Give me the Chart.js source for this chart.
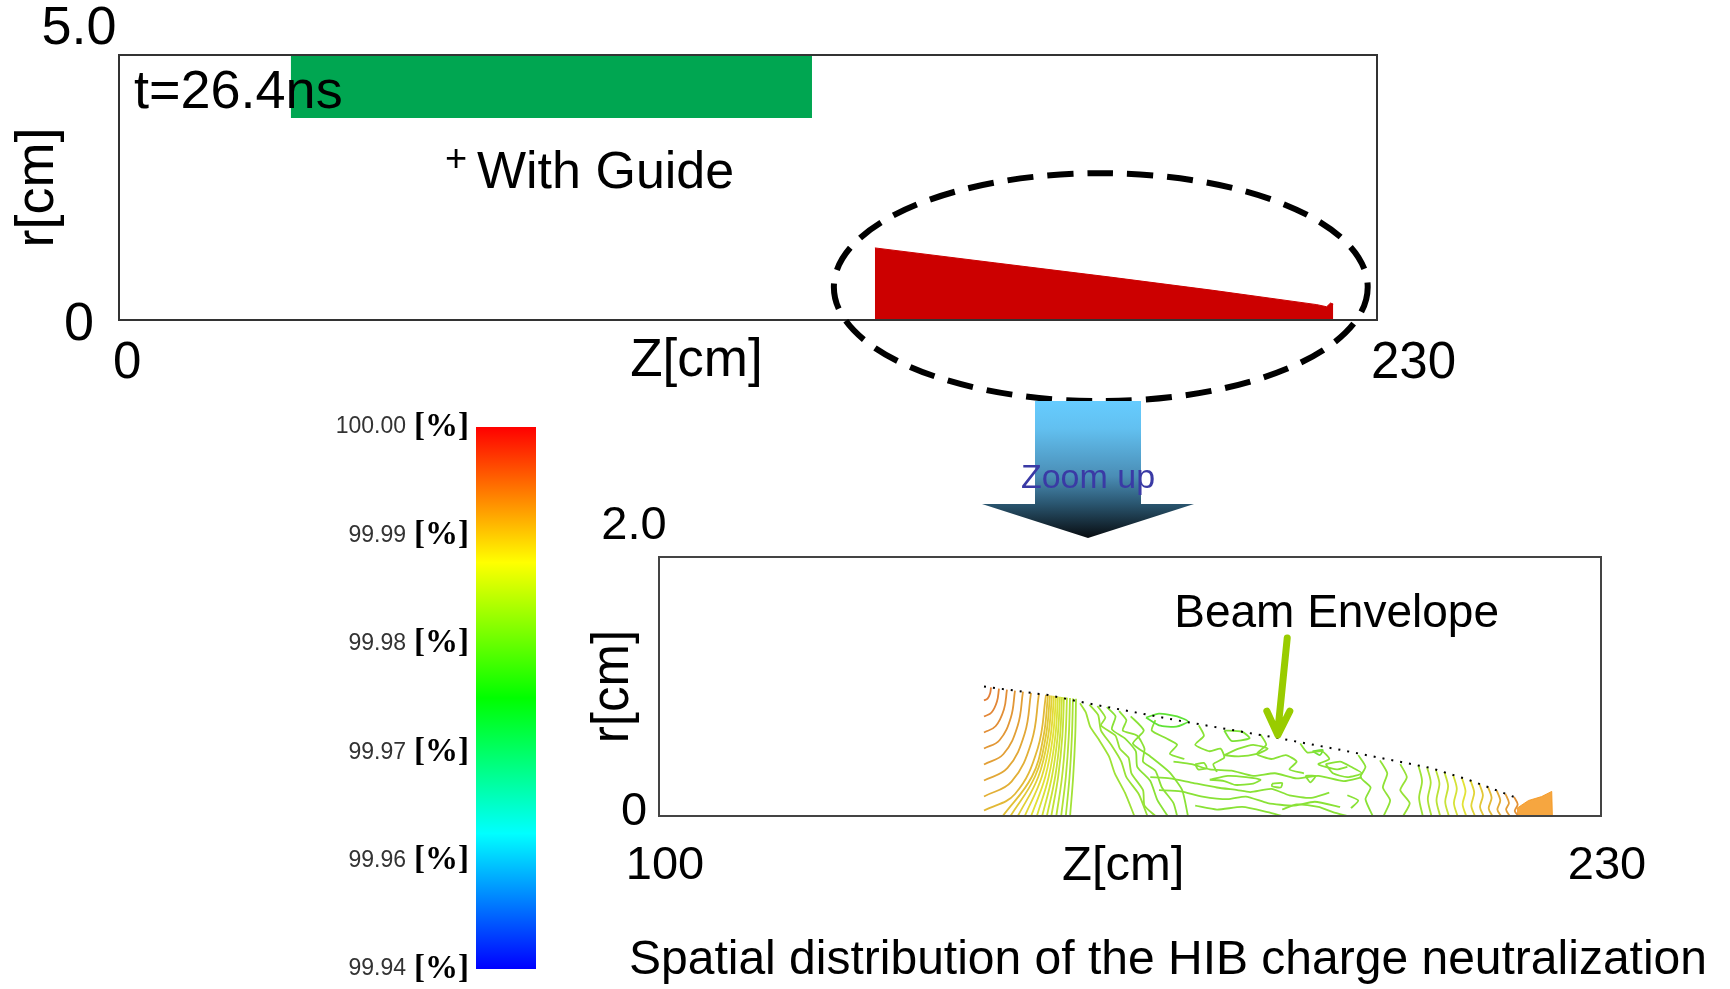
<!DOCTYPE html>
<html>
<head>
<meta charset="utf-8">
<title>Spatial distribution of the HIB charge neutralization</title>
<script src="https://cdn.jsdelivr.net/npm/chart.js@4.4.1/dist/chart.umd.min.js"></script>
<style>
  html, body { margin: 0; padding: 0; background: #fff; }
  body { width: 1730px; height: 989px; position: relative; overflow: hidden; }
  canvas { position: absolute; left: 0; }
  #topChart { top: 0; }
  #zoomChart { top: 400px; }
</style>
</head>
<body>
<canvas id="topChart" width="1730" height="560"></canvas>
<canvas id="zoomChart" width="1730" height="589"></canvas>
<script>
const FONT = '"Liberation Sans", Arial, sans-serif';

// ---------- top panel: whole column at t = 26.4 ns ----------
const topZTicks = [0, 230];
const topZLabels = ['0', '230'];
const topRTicks = [0, 5];
const topRLabels = ['0', '5.0'];
const guideZ = [31.4, 126.7];          // green guide block [cm]
const guideR = [3.81, 5.0];
const beamZ = [138.2, 160, 181.2, 200, 219, 220.8, 221.5, 222.0];
const beamR = [1.36, 1.08, 0.81, 0.56, 0.29, 0.25, 0.32, 0.30];

// ---------- bottom panel: zoom on the beam ----------
const zoomZTicks = [100, 230];
const zoomZLabels = ['100', '230'];
const zoomRTicks = [0, 2];
const zoomRLabels = ['0', '2.0'];
const envZ = [144.85, 153.7, 158.9, 171.3, 185.4, 194.1, 206.5, 211.8, 218.0];
const envR = [1.0, 0.934, 0.873, 0.741, 0.602, 0.51, 0.371, 0.278, 0.147];

// head of the beam: contour lines [z, r], levels in %
const fanLevels = [99.9948, 99.9942, 99.9936, 99.9930, 99.9924, 99.9918, 99.9912, 99.9906,
  99.9900, 99.9894, 99.9888, 99.9882, 99.9876, 99.9870, 99.9864, 99.9858, 99.9852,
  99.9846, 99.9840, 99.9834, 99.9828];
const fanLines = [
  [[144.85,.892],[145.34,.906],[145.69,.946],[145.82,.993]],
  [[144.85,.768],[145.89,.799],[146.64,.884],[146.92,.984]],
  [[144.85,.645],[146.44,.693],[147.6,.823],[148.02,.976]],
  [[144.85,.521],[146.99,.585],[148.56,.761],[149.13,.968]],
  [[144.85,.398],[147.54,.479],[149.51,.699],[150.23,.960]],
  [[144.85,.274],[148.1,.371],[150.47,.637],[151.34,.951]],
  [[144.85,.151],[148.65,.265],[151.42,.576],[152.44,.943]],
  [[144.85,.042],[149.13,.170],[152.26,.521],[153.41,.936]],
  [[147.44,0],[151.47,.305],[153.06,.614],[153.68,.934]],
  [[148.51,0],[151.89,.305],[153.38,.614],[153.96,.932]],
  [[149.53,0],[152.36,.305],[153.70,.614],[154.23,.930]],
  [[150.48,0],[152.84,.305],[154.03,.614],[154.51,.928]],
  [[151.36,0],[153.32,.305],[154.36,.614],[154.79,.925]],
  [[152.15,0],[153.79,.305],[154.69,.614],[155.06,.923]],
  [[152.88,0],[154.23,.305],[155.01,.614],[155.34,.921]],
  [[153.53,0],[154.68,.305],[155.34,.614],[155.61,.919]],
  [[154.14,0],[155.09,.305],[155.66,.614],[155.89,.917]],
  [[154.83,0],[155.63,.305],[156.10,.614],[156.30,.914]],
  [[155.50,0],[156.15,.305],[156.55,.614],[156.72,.911]],
  [[156.14,0],[156.66,.305],[156.98,.614],[157.13,.908]],
  [[156.73,0],[157.16,.305],[157.44,.614],[157.55,.905]]
];

// body of the beam
const midLevels = [99.9825, 99.982, 99.981, 99.981, 99.978, 99.981, 99.981, 99.981, 99.981,
  99.981, 99.981, 99.981, 99.981, 99.9815, 99.982, 99.981, 99.981, 99.981, 99.979,
  99.9818, 99.9812, 99.981, 99.980, 99.981, 99.981, 99.981, 99.981, 99.981];
const midLines = [
  [[158.1,.87],[158.9,.80],[159.5,.69],[160.7,.59],[162.1,.46],[162.9,.33],[164.3,.18],[165.6,0]],
  [[159.4,.86],[160.6,.78],[161.0,.66],[162.4,.55],[163.8,.42],[164.5,.30],[166.2,.17],[167.4,0]],
  [[161.8,.84],[163.0,.77],[162.5,.67],[164.3,.60],[165.8,.50],[166.0,.38],[167.8,.27],[168.8,.12],[170.2,0]],
  [[165.1,.77],[166.9,.66],[165.4,.56],[167.8,.46],[170.4,.34],[172.2,.20],[173.0,0]],
  [[167.2,.76],[169.0,.79],[171.5,.77],[173.0,.73],[171.4,.69],[169.0,.70],[167.2,.76]],
  [[174.5,.70],[175.2,.62],[174.0,.55],[176.0,.50],[177.5,.52],[178.0,.45],[176.5,.40],[177.0,.34]],
  [[167.8,.30],[170.5,.29],[173.3,.26],[177.0,.22],[179.8,.20],[181.6,.185],[184.5,.21],[187.0,.16],[190.0,.14],[192.5,.18]],
  [[169.0,.20],[172.0,.19],[175.0,.15],[178.5,.13],[181.0,.15],[184.0,.10],[187.5,.08],[190.5,.11],[194.0,.07]],
  [[171.0,.42],[173.5,.40],[176.0,.36],[179.0,.35],[182.0,.31],[185.0,.33],[188.0,.29],[191.0,.31],[194.5,.27],[197.0,.30]],
  [[174.0,.08],[177.0,.05],[180.5,.07],[184.0,.03],[186.0,0]],
  [[183.0,.63],[183.8,.55],[182.5,.48],[184.5,.44],[186.5,.47],[188.0,.42],[187.0,.36],[189.0,.33]],
  [[188.5,.56],[189.5,.49],[191.5,.50],[192.5,.44],[191.0,.40],[193.5,.36],[195.0,.38]],
  [[196.5,.47],[197.5,.38],[196.8,.30],[198.2,.22],[197.5,.13],[198.5,0]],
  [[199.5,.43],[200.5,.33],[199.9,.22],[200.9,.12],[200.0,0]],
  [[202.3,.40],[203.2,.30],[202.3,.20],[203.6,.10],[202.7,0]],
  [[174.0,.40],[175.2,.41],[175.6,.37],[174.4,.36],[174.0,.40]],
  [[189.2,.31],[190.6,.31],[189.9,.26],[189.2,.31]],
  [[184.6,.25],[186.0,.255],[185.8,.22],[184.6,.23],[184.6,.25]],
  [[190.2,.50],[191.6,.51],[191.2,.47],[190.2,.50]],
  [[160.5,.85],[161.6,.76],[161.0,.70],[163.0,.62],[163.6,.52],[164.8,.45],[165.2,.33],[166.8,.20],[167.0,.08],[168.5,0]],
  [[163.5,.81],[164.5,.74],[164.0,.66],[166.0,.62],[167.0,.52],[166.8,.42],[168.5,.35],[169.4,.22],[171.0,.10],[171.5,0]],
  [[168.5,.74],[168.0,.66],[170.0,.60],[171.5,.55],[170.5,.48],[172.5,.44]],
  [[178.0,.66],[180.5,.65],[181.5,.60],[179.0,.58],[178.0,.66]],
  [[176.0,.28],[178.0,.27],[179.5,.24],[182.0,.25],[183.0,.28],[181.0,.30],[178.5,.31],[176.0,.28]],
  [[192.0,.40],[194.0,.42],[195.5,.38],[197.0,.33],[195.0,.30],[193.0,.33],[192.0,.40]],
  [[178.0,.47],[180.0,.52],[182.0,.55],[184.0,.52],[182.5,.48],[180.0,.46],[178.0,.47]],
  [[186.0,.05],[188.0,.09],[191.0,.07],[193.0,.03],[195.0,0]],
  [[195.0,.16],[196.5,.12],[195.5,.06]]
];

// tail of the beam
const tailLevels = [99.9825, 99.9835, 99.9845, 99.9855, 99.9865, 99.9875, 99.9885, 99.9895,
  99.9905, 99.9915, 99.9925, 99.9935];
const tailLines = [
  [[204.8,.39],[205.3,.27],[204.9,.14],[205.4,0]],
  [[206.0,.375],[206.5,.26],[206.1,.13],[206.6,0]],
  [[207.2,.358],[207.7,.25],[207.3,.12],[207.8,0]],
  [[208.4,.338],[208.9,.23],[208.5,.11],[209.0,0]],
  [[209.6,.317],[210.1,.21],[209.7,.10],[210.2,0]],
  [[210.8,.296],[211.3,.19],[210.9,.09],[211.4,0]],
  [[212.0,.274],[212.5,.18],[212.1,.08],[212.6,0]],
  [[213.2,.249],[213.7,.16],[213.3,.07],[213.8,0]],
  [[214.4,.224],[214.9,.14],[214.5,.06],[215.0,0]],
  [[215.6,.198],[216.1,.12],[215.7,.05],[216.2,0]],
  [[216.8,.172],[217.3,.10],[216.9,.05],[217.4,0]],
  [[218.0,.147],[218.5,.09],[218.1,.04],[218.6,0]]
];
const hotZ = [218.4, 220.0, 221.8, 223.2, 223.3];
const hotR = [0.06, 0.12, 0.15, 0.19, 0.0];

// colour scale
const barLabels = ['100.00', '99.99', '99.98', '99.97', '99.96', '99.94'];

// ---------- helpers ----------
function levelColor(v) {
  const f = Math.min(1, Math.max(0, (100 - v) / 0.05));
  return `hsl(${240 * f}, 75%, 55%)`;
}
const pts = (xs, ys) => xs.map((x, i) => ({x, y: ys[i]}));
const linePts = line => line.map(([x, y]) => ({x, y}));
function contourSet(line, level, tension) {
  return { data: linePts(line), showLine: true, borderColor: levelColor(level), borderWidth: 1.8,
           pointRadius: 0, tension, fill: false };
}
function tickSetter(values) {
  return s => { s.ticks = values.map(v => ({value: v})); };
}
function tickLabel(values, labels, splitLast) {
  return (v, i, arr) => {
    const lab = labels[values.indexOf(v)];
    return splitLast && i === arr.length - 1 ? [lab, ''] : lab;
  };
}
const noPad = s => { s.paddingTop = 0; s.paddingBottom = 0; s.paddingLeft = 0; s.paddingRight = 0; };

// ---------- decorations ----------
const topDecor = {
  id: 'topDecor',
  afterDraw(chart) {
    const {ctx, chartArea: a, scales: {x, y}} = chart;
    ctx.save();
    ctx.strokeStyle = '#333';
    ctx.lineWidth = 2;
    ctx.strokeRect(a.left, a.top, a.right - a.left, a.bottom - a.top);

    ctx.fillStyle = '#000';
    ctx.textAlign = 'left';
    ctx.textBaseline = 'alphabetic';
    ctx.font = `54px ${FONT}`;
    ctx.fillText('t=26.4ns', x.getPixelForValue(2.74), y.getPixelForValue(4.0));
    ctx.font = `52px ${FONT}`;
    ctx.fillText('With Guide', x.getPixelForValue(65.45), y.getPixelForValue(2.49));
    ctx.font = `38px ${FONT}`;
    ctx.textBaseline = 'middle';
    ctx.fillText('+', x.getPixelForValue(59.6), y.getPixelForValue(3.0));

    // dashed ring around the beam
    const cx = x.getPixelForValue(179.5), cy = y.getPixelForValue(0.62);
    const rx = x.getPixelForValue(179.5 + 48.8) - cx;
    const ry = cy - y.getPixelForValue(0.62 + 2.15);
    ctx.setLineDash([26, 14]);
    ctx.lineWidth = 6;
    ctx.strokeStyle = '#000';
    ctx.beginPath();
    ctx.ellipse(cx, cy, rx, ry, 0, 0, Math.PI * 2);
    ctx.stroke();
    ctx.setLineDash([]);

    // "Zoom up" arrow
    const ax = 1088, top = 401, neck = 504, tip = 538;
    const g = ctx.createLinearGradient(0, top, 0, tip);
    g.addColorStop(0, '#66ccff');
    g.addColorStop(0.2, '#62c0f0');
    g.addColorStop(0.55, '#4a8db5');
    g.addColorStop(0.75, '#2a5670');
    g.addColorStop(1, '#080c10');
    ctx.fillStyle = g;
    ctx.beginPath();
    ctx.moveTo(ax - 53, top);
    ctx.lineTo(ax + 53, top);
    ctx.lineTo(ax + 53, neck);
    ctx.lineTo(ax + 106, neck);
    ctx.lineTo(ax, tip);
    ctx.lineTo(ax - 106, neck);
    ctx.lineTo(ax - 53, neck);
    ctx.closePath();
    ctx.fill();
    ctx.fillStyle = '#3a3aa5';
    ctx.font = `34px ${FONT}`;
    ctx.textAlign = 'center';
    ctx.textBaseline = 'alphabetic';
    ctx.fillText('Zoom up', ax, 488);
    ctx.restore();
  }
};

const zoomDecor = {
  id: 'zoomDecor',
  afterDraw(chart) {
    const {ctx, chartArea: a, scales: {x, y}} = chart;
    ctx.save();
    ctx.strokeStyle = '#444';
    ctx.lineWidth = 2;
    ctx.strokeRect(a.left, a.top, a.right - a.left, a.bottom - a.top);

    ctx.fillStyle = '#000';
    ctx.font = `46px ${FONT}`;
    ctx.textAlign = 'left';
    ctx.textBaseline = 'alphabetic';
    ctx.fillText('Beam Envelope', x.getPixelForValue(171.1), y.getPixelForValue(1.46));

    // green pointer to the envelope
    const x0 = x.getPixelForValue(186.7), y0 = y.getPixelForValue(1.375);
    const x1 = x.getPixelForValue(185.4), y1 = y.getPixelForValue(0.625);
    ctx.strokeStyle = '#99cc00';
    ctx.lineWidth = 7;
    ctx.lineCap = 'round';
    ctx.lineJoin = 'round';
    ctx.beginPath();
    ctx.moveTo(x0, y0);
    ctx.lineTo(x1, y1 - 4);
    ctx.moveTo(x1 - 11, y1 - 24);
    ctx.lineTo(x1, y1);
    ctx.lineTo(x1 + 12, y1 - 24);
    ctx.stroke();

    // colour scale
    const bl = 476, br = 536, bt = 27, bb = 569;
    const g = ctx.createLinearGradient(0, bt, 0, bb);
    for (let k = 0; k <= 8; k++) g.addColorStop(k / 8, `hsl(${30 * k}, 100%, 50%)`);
    ctx.fillStyle = g;
    ctx.fillRect(bl, bt, br - bl, bb - bt);
    barLabels.forEach((lab, i) => {
      const yy = bt + (bb - bt) * i / (barLabels.length - 1);
      ctx.fillStyle = '#333';
      ctx.font = `23px ${FONT}`;
      ctx.textAlign = 'right';
      ctx.textBaseline = 'middle';
      ctx.fillText(lab, 406, yy);
      ctx.fillStyle = '#000';
      ctx.font = `bold 33px "Liberation Serif", "Times New Roman", serif`;
      ctx.textAlign = 'left';
      ctx.fillText('[%]', 414, yy);
    });

    ctx.fillStyle = '#000';
    ctx.font = `48px ${FONT}`;
    ctx.textAlign = 'left';
    ctx.textBaseline = 'alphabetic';
    ctx.fillText('Spatial distribution of the HIB charge neutralization', 629, 574);
    ctx.restore();
  }
};

const common = {
  responsive: false,
  animation: false,
  events: [],
  plugins: { legend: { display: false }, tooltip: { enabled: false } }
};

// ---------- top chart ----------
new Chart(document.getElementById('topChart'), {
  type: 'scatter',
  data: {
    datasets: [
      { data: pts(guideZ, [guideR[1], guideR[1]]), showLine: true, fill: { value: guideR[0] },
        backgroundColor: '#00a651', borderColor: '#00a651', borderWidth: 0, pointRadius: 0 },
      { data: pts(beamZ, beamR), showLine: true, fill: 'origin',
        backgroundColor: '#cc0000', borderColor: '#cc0000', borderWidth: 1, pointRadius: 0 }
    ]
  },
  options: {
    ...common,
    layout: { padding: { left: 0, top: 55, right: 353, bottom: 150 } },
    scales: {
      x: {
        min: 0, max: 230,
        afterBuildTicks: tickSetter(topZTicks),
        afterFit: s => { noPad(s); s.height = 90; },
        grid: { display: false, drawTicks: false }, border: { display: false },
        ticks: { callback: tickLabel(topZTicks, topZLabels, false), color: '#000', padding: 18,
                 align: 'start', labelOffset: -6, maxRotation: 0, autoSkip: false,
                 font: { family: FONT, size: 51, lineHeight: 1 } },
        title: { display: true, text: 'Z[cm]       ', color: '#000',
                 font: { family: FONT, size: 53, lineHeight: 1 }, padding: { top: 0, bottom: 22 } }
      },
      y: {
        min: 0, max: 5,
        afterBuildTicks: tickSetter(topRTicks),
        afterFit: s => { noPad(s); s.width = 119; },
        grid: { display: false, drawTicks: false }, border: { display: false },
        ticks: { callback: tickLabel(topRTicks, topRLabels, true), color: '#000', padding: 2.5,
                 crossAlign: 'center', labelOffset: 5, autoSkip: false,
                 font: { family: FONT, size: 54, lineHeight: 1.13 } },
        title: { display: true, text: 'r[cm]', color: '#000',
                 font: { family: FONT, size: 54, lineHeight: 1 }, padding: { top: 11, bottom: 0 } }
      }
    }
  },
  plugins: [topDecor]
});

// ---------- zoomed chart ----------
const zoomSets = [
  { data: pts(envZ, envR), showLine: true, borderColor: '#000', borderWidth: 2, borderDash: [2, 7],
    pointRadius: 0, fill: false },
  ...tailLines.map((l, i) => contourSet(l, tailLevels[i], 0.3)),
  ...midLines.map((l, i) => contourSet(l, midLevels[i], 0.2)),
  ...fanLines.map((l, i) => contourSet(l, fanLevels[i], 0.4)),
  { data: pts(hotZ, hotR), showLine: true, fill: 'origin', backgroundColor: 'rgba(245,150,30,0.85)',
    borderColor: 'rgba(245,150,30,0.85)', borderWidth: 1, pointRadius: 0 }
];

new Chart(document.getElementById('zoomChart'), {
  type: 'scatter',
  data: { datasets: zoomSets },
  options: {
    ...common,
    layout: { padding: { left: 560, top: 157, right: 129, bottom: 63 } },
    scales: {
      x: {
        min: 100, max: 230,
        afterBuildTicks: tickSetter(zoomZTicks),
        afterFit: s => { noPad(s); s.height = 110; },
        grid: { display: false, drawTicks: false }, border: { display: false },
        ticks: { callback: tickLabel(zoomZTicks, zoomZLabels, false), color: '#000', padding: 26.5,
                 labelOffset: 6, maxRotation: 0, autoSkip: false,
                 font: { family: FONT, size: 47, lineHeight: 1 } },
        title: { display: true, text: 'Z[cm] ', color: '#000',
                 font: { family: FONT, size: 49, lineHeight: 1 }, padding: { top: 0, bottom: 35.5 } }
      },
      y: {
        min: 0, max: 2,
        afterBuildTicks: tickSetter(zoomRTicks),
        afterFit: s => { noPad(s); s.width = 99; },
        grid: { display: false, drawTicks: false }, border: { display: false },
        ticks: { callback: tickLabel(zoomRTicks, zoomRLabels, true), color: '#000', padding: -57.7,
                 mirror: true, crossAlign: 'center', labelOffset: -4, autoSkip: false,
                 font: { family: FONT, size: 47, lineHeight: 1.15 } },
        title: { display: true, text: 'r[cm]', color: '#000',
                 font: { family: FONT, size: 51, lineHeight: 1 }, padding: { top: 28.5, bottom: 0 } }
      }
    }
  },
  plugins: [zoomDecor]
});
</script>
</body>
</html>
